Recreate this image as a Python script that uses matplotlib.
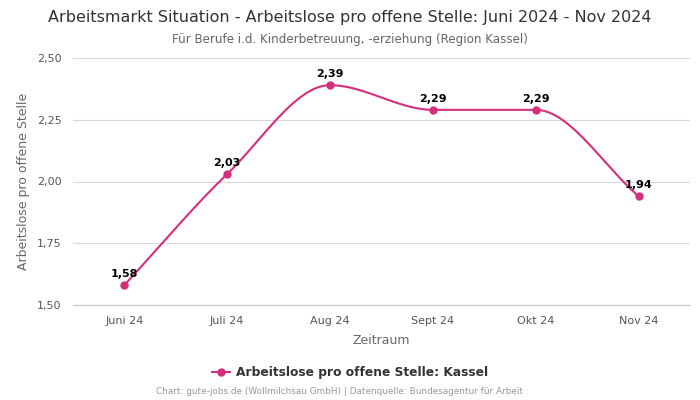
import matplotlib.pyplot as plt
import numpy as np

months = ['Juni 24', 'Juli 24', 'Aug 24', 'Sept 24', 'Okt 24', 'Nov 24']
values = [1.58, 2.03, 2.39, 2.29, 2.29, 1.94]
yticks = [1.50, 1.75, 2.00, 2.25, 2.50]
color = '#d42f7d'


def monotone(x, y, n=40):
    # Fritsch-Carlson monotone cubic, only for drawing the smooth line
    x = np.asarray(x, float)
    y = np.asarray(y, float)
    h = np.diff(x)
    d = np.diff(y) / h
    m = np.zeros_like(y)
    m[0], m[-1] = d[0], d[-1]
    for i in range(1, len(y) - 1):
        if d[i - 1] * d[i] <= 0:
            m[i] = 0
        else:
            m[i] = 2 / (1 / d[i - 1] + 1 / d[i])
    xs, ys = [], []
    for i in range(len(x) - 1):
        t = np.linspace(0, 1, n)
        h00 = 2 * t**3 - 3 * t**2 + 1
        h10 = t**3 - 2 * t**2 + t
        h01 = -2 * t**3 + 3 * t**2
        h11 = t**3 - t**2
        xs.append(x[i] + t * h[i])
        ys.append(h00 * y[i] + h10 * h[i] * m[i] + h01 * y[i + 1] + h11 * h[i] * m[i + 1])
    return np.concatenate(xs), np.concatenate(ys)


fig = plt.figure(figsize=(7, 4), dpi=100)
ax = fig.add_axes([0.104, 0.2375, 0.882, 0.6175])

x = np.arange(len(months))
sx, sy = monotone(x, values)
ax.plot(sx, sy, color=color, lw=1.5, zorder=3)
ax.plot(x, values, 'o', color=color, ms=5, zorder=4)
for xi, v in zip(x, values):
    ax.annotate(f'{v:.2f}'.replace('.', ','), (xi, v), xytext=(0, 4.5),
                textcoords='offset points', ha='center', va='bottom',
                fontsize=8, fontweight='bold', color='black')

ax.set_xlim(-0.5, len(months) - 0.5)
ax.set_ylim(1.5, 2.5)
ax.set_yticks(yticks)
ax.set_yticklabels([f'{t:.2f}'.replace('.', ',') for t in yticks])
ax.set_xticks(x)
ax.set_xticklabels(months)
ax.tick_params(length=0, labelsize=8, colors='#555555', pad=8)
ax.grid(axis='y', color='#d8d8d8', lw=0.8)
ax.set_axisbelow(True)
for s in ax.spines.values():
    s.set_visible(False)
ax.axhline(1.5, color='#c8cdd6', lw=1, zorder=1, clip_on=False)

ax.set_xlabel('Zeitraum', fontsize=9, color='#666666', labelpad=6)
ax.set_ylabel('Arbeitslose pro offene Stelle', fontsize=9, color='#666666', labelpad=5)

fig.text(0.5, 0.957, 'Arbeitsmarkt Situation - Arbeitslose pro offene Stelle: Juni 2024 - Nov 2024',
         ha='center', va='center', fontsize=11.5, color='#333333')
fig.text(0.5, 0.902, 'Für Berufe i.d. Kinderbetreuung, -erziehung (Region Kassel)',
         ha='center', va='center', fontsize=8.6, color='#666666')

ax.plot([], [], '-o', color=color, ms=5, lw=1.5, label='Arbeitslose pro offene Stelle: Kassel')
leg = fig.legend(loc='center', bbox_to_anchor=(0.5, 0.068), frameon=False,
                 prop={'size': 8.8, 'weight': 'bold'}, handlelength=1.5, handletextpad=0.5)
for t in leg.get_texts():
    t.set_color('#333333')

fig.text(0.485, 0.02, 'Chart: gute-jobs.de (Wollmilchsau GmbH) | Datenquelle: Bundesagentur für Arbeit',
         ha='center', va='center', fontsize=6.4, color='#999999')

fig.savefig('out.png', dpi=100)
